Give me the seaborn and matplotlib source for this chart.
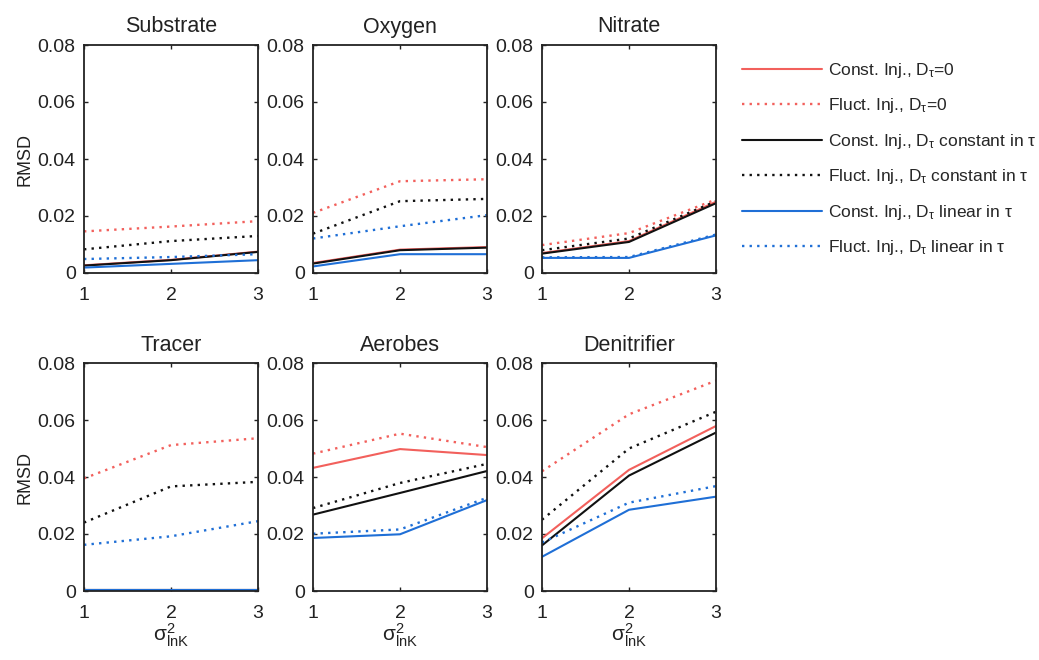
import matplotlib
matplotlib.use("Agg")
import matplotlib.pyplot as plt
import seaborn as sns
import pandas as pd
import numpy as np

# ---- data ----
sigma2 = [1, 2, 3]
series_labels = [
    r"Const. Inj., D$_\tau$=0",
    r"Fluct. Inj., D$_\tau$=0",
    r"Const. Inj., D$_\tau$ constant in $\tau$",
    r"Fluct. Inj., D$_\tau$ constant in $\tau$",
    r"Const. Inj., D$_\tau$ linear in $\tau$",
    r"Fluct. Inj., D$_\tau$ linear in $\tau$",
]
panel_titles = ["Substrate", "Oxygen", "Nitrate", "Tracer", "Aerobes", "Denitrifier"]

# rows: series in the order of series_labels; columns: sigma2 = 1, 2, 3
substrate = [[0.0027, 0.0046, 0.0075],
             [0.0146, 0.0163, 0.0182],
             [0.0026, 0.0045, 0.0074],
             [0.0083, 0.0112, 0.0130],
             [0.0019, 0.0032, 0.0045],
             [0.0049, 0.0056, 0.0066]]
oxygen = [[0.0035, 0.0082, 0.0091],
          [0.0211, 0.0322, 0.0329],
          [0.0033, 0.0080, 0.0089],
          [0.0138, 0.0252, 0.0260],
          [0.0023, 0.0066, 0.0066],
          [0.0121, 0.0164, 0.0203]]
nitrate = [[0.0070, 0.0112, 0.0250],
           [0.0098, 0.0140, 0.0258],
           [0.0068, 0.0109, 0.0245],
           [0.0080, 0.0121, 0.0252],
           [0.0053, 0.0053, 0.0132],
           [0.0055, 0.0056, 0.0135]]
tracer = [[0.0002, 0.0002, 0.0002],
          [0.0395, 0.0512, 0.0536],
          [0.0002, 0.0002, 0.0002],
          [0.0240, 0.0367, 0.0383],
          [0.0002, 0.0002, 0.0002],
          [0.0162, 0.0192, 0.0245]]
aerobes = [[0.0432, 0.0498, 0.0477],
           [0.0482, 0.0552, 0.0505],
           [0.0268, 0.0344, 0.0421],
           [0.0291, 0.0379, 0.0446],
           [0.0186, 0.0199, 0.0319],
           [0.0201, 0.0216, 0.0327]]
denitrifier = [[0.0185, 0.0425, 0.0579],
               [0.0420, 0.0620, 0.0738],
               [0.0160, 0.0405, 0.0556],
               [0.0250, 0.0500, 0.0629],
               [0.0120, 0.0285, 0.0331],
               [0.0170, 0.0310, 0.0368]]
panels = [substrate, oxygen, nitrate, tracer, aerobes, denitrifier]

y_ticks = [0, 0.02, 0.04, 0.06, 0.08]
y_tick_labels = ["0", "0.02", "0.04", "0.06", "0.08"]
x_ticks = [1, 2, 3]

# ---- styles ----
red = "#f2605c"
black = "#111111"
blue = "#1f6fd6"
colors = [red, red, black, black, blue, blue]
styles = ["-", (0, (1, 2.2)), "-", (0, (1, 2.2)), "-", (0, (1, 2.2))]

sns.set_style("ticks")
plt.rcParams["font.family"] = ["Liberation Sans", "DejaVu Sans"]
plt.rcParams["mathtext.fontset"] = "custom"
plt.rcParams["mathtext.rm"] = "Liberation Sans"
plt.rcParams["mathtext.it"] = "Liberation Sans:italic"
plt.rcParams["mathtext.default"] = "regular"

W, H = 1039, 660
fig = plt.figure(figsize=(W / 100, H / 100), dpi=100)

col_x = [84, 313, 542]
ax_w = 174
row_top = [45, 363]
ax_h = 228

axes = []
for i, (title, data) in enumerate(zip(panel_titles, panels)):
    r, c = divmod(i, 3)
    left = col_x[c] / W
    bottom = 1 - (row_top[r] + ax_h) / H
    ax = fig.add_axes([left, bottom, ax_w / W, ax_h / H])
    axes.append(ax)
    rows = []
    for s, lab in enumerate(series_labels):
        for x, v in zip(sigma2, data[s]):
            rows.append({"sigma2": x, "RMSD": v, "series": lab})
    df = pd.DataFrame(rows)
    for s, lab in enumerate(series_labels):
        sub = df[df["series"] == lab]
        sns.lineplot(data=sub, x="sigma2", y="RMSD", ax=ax, color=colors[s],
                     linestyle=styles[s], linewidth=1.5 if styles[s] == "-" else 1.7,
                     label=lab, legend=False)
    ax.set_xlim(1, 3)
    ax.set_ylim(0, 0.08)
    ax.set_xticks(x_ticks)
    ax.set_xticklabels([str(t) for t in x_ticks])
    ax.set_yticks(y_ticks)
    ax.set_yticklabels(y_tick_labels)
    ax.tick_params(direction="in", length=3, width=1, top=True, right=True,
                   labelsize=14, colors="#222222")
    ax.tick_params(axis="x", pad=10)
    ax.tick_params(axis="y", pad=6)
    for sp in ax.spines.values():
        sp.set_visible(True)
        sp.set_linewidth(1.3)
        sp.set_color("#222222")
    ax.set_title(title, fontsize=15.5, pad=9, color="#222222")
    ax.set_ylabel("RMSD" if c == 0 else "", fontsize=13, labelpad=3, color="#222222")
    if r == 1:
        ax.set_xlabel(r"$\sigma^2_{lnK}$", fontsize=15, labelpad=0, color="#222222")
    else:
        ax.set_xlabel("")

handles, labels = axes[-1].get_legend_handles_labels()
fig.legend(handles, labels, loc="upper left",
           bbox_to_anchor=(735 / W, 1 - 54 / H), frameon=False,
           fontsize=12.5, handlelength=4.6, handletextpad=0.35,
           labelspacing=0.95, borderaxespad=0)

fig.savefig("out.png", dpi=100)
